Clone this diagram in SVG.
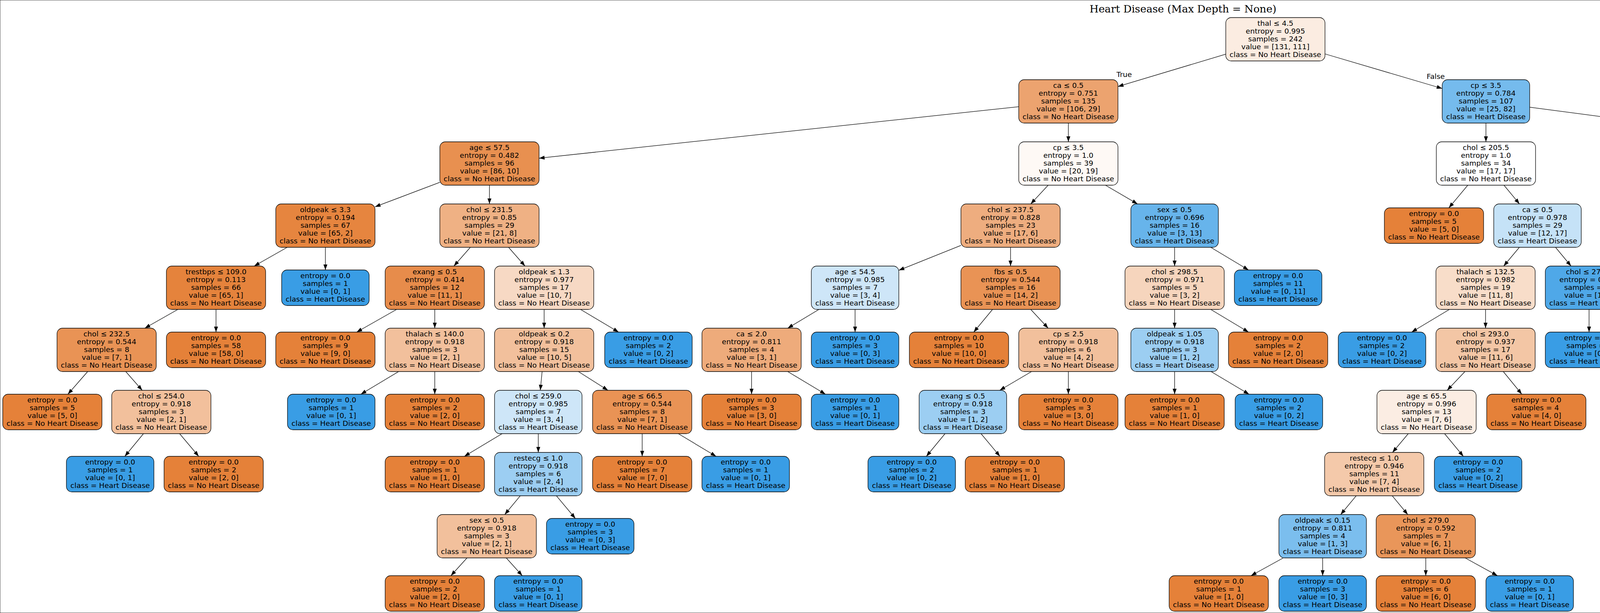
<svg xmlns="http://www.w3.org/2000/svg" width="6058" height="1569" viewBox="0 0 6058 1569">
<style>
text{font-family:"DejaVu Sans","Liberation Sans",sans-serif;font-size:18.5px;text-anchor:middle;fill:#000}
.title{font-family:"DejaVu Serif","Liberation Serif",serif;font-size:26.5px}
rect{stroke:#000;stroke-width:1.3}
.o{fill:#e58139}.b{fill:#399de5}
#edges line{stroke:#000;stroke-width:1.3;marker-end:url(#arr)}
</style>
<defs>
<marker id="arr" markerUnits="userSpaceOnUse" markerWidth="16" markerHeight="12" refX="14" refY="5" orient="auto" overflow="visible"><path d="M0,0 L14,5 L0,10 z" fill="#000"/></marker>
</defs>
<rect x="0" y="0" width="6058" height="1569" fill="#fff" stroke="none"/>
<text class="title" x="3028.5" y="32">Heart Disease (Max Depth = None)</text>
<g id="edges">
<line x1="3138" y1="138.6" x2="2862" y2="221.4"/>
<line x1="3392" y1="138" x2="3692" y2="226.5"/>
<line x1="2608" y1="273.1" x2="1380" y2="404.9"/>
<line x1="2735" y1="315" x2="2735" y2="363"/>
<line x1="3804" y1="315" x2="3804" y2="363"/>
<line x1="3916" y1="274.3" x2="4893" y2="403.7"/>
<line x1="1126" y1="466.6" x2="960" y2="529.4"/>
<line x1="1253" y1="474" x2="1253" y2="522"/>
<line x1="2683.3" y1="474" x2="2638.7" y2="522"/>
<line x1="2829.9" y1="474" x2="2912.1" y2="522"/>
<line x1="3757.6" y1="474" x2="3709.1" y2="532"/>
<line x1="3850.1" y1="474" x2="3889.9" y2="522"/>
<line x1="5005" y1="474" x2="5005" y2="522"/>
<line x1="5117" y1="445" x2="5564" y2="551"/>
<line x1="735.3" y1="633" x2="650.7" y2="681"/>
<line x1="833" y1="633" x2="833" y2="691"/>
<line x1="1204.1" y1="633" x2="1161.9" y2="681"/>
<line x1="1301.9" y1="633" x2="1344.1" y2="681"/>
<line x1="2460" y1="628.2" x2="2301" y2="691.8"/>
<line x1="2587" y1="633" x2="2587" y2="681"/>
<line x1="3007" y1="633" x2="3007" y2="681"/>
<line x1="3099.5" y1="633" x2="3196.2" y2="691"/>
<line x1="3889.6" y1="633" x2="3849.4" y2="681"/>
<line x1="3982.1" y1="633" x2="4021.9" y2="681"/>
<line x1="4955.8" y1="633" x2="4913.2" y2="681"/>
<line x1="5053.5" y1="633" x2="5095.5" y2="681"/>
<line x1="5676" y1="633" x2="5676" y2="681"/>
<line x1="5762.9" y1="633" x2="5853.7" y2="691"/>
<line x1="455.3" y1="792" x2="370.7" y2="840"/>
<line x1="553" y1="792" x2="553" y2="850"/>
<line x1="1015.3" y1="792" x2="913.1" y2="850"/>
<line x1="1113" y1="792" x2="1113" y2="840"/>
<line x1="1393" y1="792" x2="1393" y2="840"/>
<line x1="1486.2" y1="792" x2="1583.6" y2="850"/>
<line x1="2096.5" y1="792" x2="2016.5" y2="840"/>
<line x1="2189" y1="792" x2="2189" y2="850"/>
<line x1="2540.9" y1="792" x2="2492.8" y2="850"/>
<line x1="2638.7" y1="792" x2="2683.3" y2="840"/>
<line x1="3007" y1="792" x2="3007" y2="840"/>
<line x1="3099.5" y1="792" x2="3196.2" y2="850"/>
<line x1="3710.5" y1="792" x2="3613.8" y2="850"/>
<line x1="3803" y1="792" x2="3803" y2="840"/>
<line x1="4068" y1="792" x2="4068" y2="850"/>
<line x1="4160.8" y1="792" x2="4241.2" y2="840"/>
<line x1="4771.8" y1="792" x2="4675.5" y2="850"/>
<line x1="4864" y1="792" x2="4864" y2="840"/>
<line x1="5144" y1="792" x2="5144" y2="850"/>
<line x1="5236.8" y1="792" x2="5333.9" y2="850"/>
<line x1="5676" y1="792" x2="5676" y2="840"/>
<line x1="5768.5" y1="792" x2="5865.2" y2="850"/>
<line x1="224.5" y1="951" x2="173.8" y2="1009"/>
<line x1="321.9" y1="951" x2="364.1" y2="999"/>
<line x1="1020.5" y1="951" x2="923.8" y2="1009"/>
<line x1="1113" y1="951" x2="1113" y2="1009"/>
<line x1="1387.8" y1="951" x2="1383.2" y2="999"/>
<line x1="1480.6" y1="951" x2="1556.4" y2="999"/>
<line x1="1924" y1="951" x2="1924" y2="1009"/>
<line x1="2016.5" y1="951" x2="2113.2" y2="1009"/>
<line x1="2640.8" y1="951" x2="2559.3" y2="999"/>
<line x1="2735" y1="951" x2="2735" y2="1009"/>
<line x1="3007" y1="951" x2="3007" y2="1009"/>
<line x1="3100.2" y1="951" x2="3197.6" y2="1009"/>
<line x1="3750.3" y1="951" x2="3704.7" y2="999"/>
<line x1="3848.4" y1="951" x2="3895.8" y2="1009"/>
<line x1="4310.6" y1="951" x2="4286.2" y2="1009"/>
<line x1="4403.1" y1="951" x2="4475.3" y2="1009"/>
<line x1="4850.4" y1="951" x2="4836.2" y2="1009"/>
<line x1="4948.1" y1="951" x2="5020.9" y2="999"/>
<line x1="5628.9" y1="951" x2="5579.6" y2="1009"/>
<line x1="5721.7" y1="951" x2="5769.5" y2="1009"/>
<line x1="367.3" y1="1110" x2="319.5" y2="1168"/>
<line x1="459.8" y1="1110" x2="508.7" y2="1168"/>
<line x1="1285.5" y1="1110" x2="1188.8" y2="1168"/>
<line x1="1378" y1="1110" x2="1378" y2="1158"/>
<line x1="1644" y1="1110" x2="1644" y2="1168"/>
<line x1="1736.5" y1="1110" x2="1833.2" y2="1168"/>
<line x1="2419.3" y1="1110" x2="2371.5" y2="1168"/>
<line x1="2511.4" y1="1110" x2="2559.9" y2="1168"/>
<line x1="3605.2" y1="1110" x2="3564.8" y2="1158"/>
<line x1="3698.1" y1="1110" x2="3746.2" y2="1168"/>
<line x1="5058.6" y1="1110" x2="5010.1" y2="1168"/>
<line x1="5151.1" y1="1110" x2="5199.2" y2="1168"/>
<line x1="1331.9" y1="1269" x2="1292.1" y2="1317"/>
<line x1="1424.4" y1="1269" x2="1472.9" y2="1327"/>
<line x1="3471.9" y1="1269" x2="3432.1" y2="1317"/>
<line x1="3564.1" y1="1269" x2="3603.9" y2="1317"/>
<line x1="1195.6" y1="1428" x2="1154.3" y2="1473.5"/>
<line x1="1296" y1="1428" x2="1337" y2="1473.5"/>
<line x1="3285.2" y1="1428" x2="3202.6" y2="1473.5"/>
<line x1="3386" y1="1428" x2="3386" y2="1473.5"/>
<line x1="3650" y1="1428" x2="3650" y2="1473.5"/>
<line x1="3750.8" y1="1428" x2="3833.4" y2="1473.5"/>
<text x="2878" y="197">True</text>
<text x="3675.5" y="201.5">False</text>
</g>
<g id="n0" transform="translate(3265,100.5)"><rect x="-127" y="-55.5" width="254" height="111" rx="14" fill="#fbece1"/><text y="-35"><tspan x="0">thal ≤ 4.5</tspan><tspan x="0" dy="20">entropy = 0.995</tspan><tspan x="0" dy="20">samples = 242</tspan><tspan x="0" dy="20">value = [131, 111]</tspan><tspan x="0" dy="20">class = No Heart Disease</tspan></text></g>
<g id="n1" transform="translate(2735,259.5)"><rect x="-127" y="-55.5" width="254" height="111" rx="14" fill="#eca36f"/><text y="-35"><tspan x="0">ca ≤ 0.5</tspan><tspan x="0" dy="20">entropy = 0.751</tspan><tspan x="0" dy="20">samples = 135</tspan><tspan x="0" dy="20">value = [106, 29]</tspan><tspan x="0" dy="20">class = No Heart Disease</tspan></text></g>
<g id="n52" transform="translate(3804,259.5)"><rect x="-112" y="-55.5" width="224" height="111" rx="14" fill="#75bbed"/><text y="-35"><tspan x="0">cp ≤ 3.5</tspan><tspan x="0" dy="20">entropy = 0.784</tspan><tspan x="0" dy="20">samples = 107</tspan><tspan x="0" dy="20">value = [25, 82]</tspan><tspan x="0" dy="20">class = Heart Disease</tspan></text></g>
<g id="n2" transform="translate(1253,418.5)"><rect x="-127" y="-55.5" width="254" height="111" rx="14" fill="#e89050"/><text y="-35"><tspan x="0">age ≤ 57.5</tspan><tspan x="0" dy="20">entropy = 0.482</tspan><tspan x="0" dy="20">samples = 96</tspan><tspan x="0" dy="20">value = [86, 10]</tspan><tspan x="0" dy="20">class = No Heart Disease</tspan></text></g>
<g id="n31" transform="translate(2735,418.5)"><rect x="-127" y="-55.5" width="254" height="111" rx="14" fill="#fef9f5"/><text y="-35"><tspan x="0">cp ≤ 3.5</tspan><tspan x="0" dy="20">entropy = 1.0</tspan><tspan x="0" dy="20">samples = 39</tspan><tspan x="0" dy="20">value = [20, 19]</tspan><tspan x="0" dy="20">class = No Heart Disease</tspan></text></g>
<g id="n53" transform="translate(3804,418.5)"><rect x="-127" y="-55.5" width="254" height="111" rx="14" fill="#ffffff"/><text y="-35"><tspan x="0">chol ≤ 205.5</tspan><tspan x="0" dy="20">entropy = 1.0</tspan><tspan x="0" dy="20">samples = 34</tspan><tspan x="0" dy="20">value = [17, 17]</tspan><tspan x="0" dy="20">class = No Heart Disease</tspan></text></g>
<g id="n74" transform="translate(5005,418.5)"><rect x="-112" y="-55.5" width="224" height="111" rx="14" fill="#51a9e8"/><text y="-35"><tspan x="0">oldpeak ≤ 0.45</tspan><tspan x="0" dy="20">entropy = 0.499</tspan><tspan x="0" dy="20">samples = 73</tspan><tspan x="0" dy="20">value = [8, 65]</tspan><tspan x="0" dy="20">class = Heart Disease</tspan></text></g>
<g id="n3" transform="translate(833,577.5)"><rect x="-127" y="-55.5" width="254" height="111" rx="14" fill="#e6853f"/><text y="-35"><tspan x="0">oldpeak ≤ 3.3</tspan><tspan x="0" dy="20">entropy = 0.194</tspan><tspan x="0" dy="20">samples = 67</tspan><tspan x="0" dy="20">value = [65, 2]</tspan><tspan x="0" dy="20">class = No Heart Disease</tspan></text></g>
<g id="n12" transform="translate(1253,577.5)"><rect x="-127" y="-55.5" width="254" height="111" rx="14" fill="#efb184"/><text y="-35"><tspan x="0">chol ≤ 231.5</tspan><tspan x="0" dy="20">entropy = 0.85</tspan><tspan x="0" dy="20">samples = 29</tspan><tspan x="0" dy="20">value = [21, 8]</tspan><tspan x="0" dy="20">class = No Heart Disease</tspan></text></g>
<g id="n32" transform="translate(2587,577.5)"><rect x="-127" y="-55.5" width="254" height="111" rx="14" fill="#eead7f"/><text y="-35"><tspan x="0">chol ≤ 237.5</tspan><tspan x="0" dy="20">entropy = 0.828</tspan><tspan x="0" dy="20">samples = 23</tspan><tspan x="0" dy="20">value = [17, 6]</tspan><tspan x="0" dy="20">class = No Heart Disease</tspan></text></g>
<g id="n45" transform="translate(3007,577.5)"><rect x="-112" y="-55.5" width="224" height="111" rx="14" fill="#67b4eb"/><text y="-35"><tspan x="0">sex ≤ 0.5</tspan><tspan x="0" dy="20">entropy = 0.696</tspan><tspan x="0" dy="20">samples = 16</tspan><tspan x="0" dy="20">value = [3, 13]</tspan><tspan x="0" dy="20">class = Heart Disease</tspan></text></g>
<g id="n54" transform="translate(3671,577.5)"><rect x="-127" y="-45.5" width="254" height="91" rx="14" class="o"/><text y="-25"><tspan x="0">entropy = 0.0</tspan><tspan x="0" dy="20">samples = 5</tspan><tspan x="0" dy="20">value = [5, 0]</tspan><tspan x="0" dy="20">class = No Heart Disease</tspan></text></g>
<g id="n55" transform="translate(3936,577.5)"><rect x="-112" y="-55.5" width="224" height="111" rx="14" fill="#c5e2f7"/><text y="-35"><tspan x="0">ca ≤ 0.5</tspan><tspan x="0" dy="20">entropy = 0.978</tspan><tspan x="0" dy="20">samples = 29</tspan><tspan x="0" dy="20">value = [12, 17]</tspan><tspan x="0" dy="20">class = Heart Disease</tspan></text></g>
<g id="n75" transform="translate(5005,577.5)"><rect x="-112" y="-55.5" width="224" height="111" rx="14" fill="#d3e9f9"/><text y="-35"><tspan x="0">chol ≤ 233.5</tspan><tspan x="0" dy="20">entropy = 0.989</tspan><tspan x="0" dy="20">samples = 16</tspan><tspan x="0" dy="20">value = [7, 9]</tspan><tspan x="0" dy="20">class = Heart Disease</tspan></text></g>
<g id="n86" transform="translate(5676,577.5)"><rect x="-112" y="-55.5" width="224" height="111" rx="14" fill="#3d9fe5"/><text y="-35"><tspan x="0">trestbps ≤ 113.5</tspan><tspan x="0" dy="20">entropy = 0.127</tspan><tspan x="0" dy="20">samples = 57</tspan><tspan x="0" dy="20">value = [1, 56]</tspan><tspan x="0" dy="20">class = Heart Disease</tspan></text></g>
<g id="n4" transform="translate(553,736.5)"><rect x="-127" y="-55.5" width="254" height="111" rx="14" fill="#e5833c"/><text y="-35"><tspan x="0">trestbps ≤ 109.0</tspan><tspan x="0" dy="20">entropy = 0.113</tspan><tspan x="0" dy="20">samples = 66</tspan><tspan x="0" dy="20">value = [65, 1]</tspan><tspan x="0" dy="20">class = No Heart Disease</tspan></text></g>
<g id="n11" transform="translate(833,736.5)"><rect x="-112" y="-45.5" width="224" height="91" rx="14" class="b"/><text y="-25"><tspan x="0">entropy = 0.0</tspan><tspan x="0" dy="20">samples = 1</tspan><tspan x="0" dy="20">value = [0, 1]</tspan><tspan x="0" dy="20">class = Heart Disease</tspan></text></g>
<g id="n13" transform="translate(1113,736.5)"><rect x="-127" y="-55.5" width="254" height="111" rx="14" fill="#e78c4b"/><text y="-35"><tspan x="0">exang ≤ 0.5</tspan><tspan x="0" dy="20">entropy = 0.414</tspan><tspan x="0" dy="20">samples = 12</tspan><tspan x="0" dy="20">value = [11, 1]</tspan><tspan x="0" dy="20">class = No Heart Disease</tspan></text></g>
<g id="n18" transform="translate(1393,736.5)"><rect x="-127" y="-55.5" width="254" height="111" rx="14" fill="#f7d9c4"/><text y="-35"><tspan x="0">oldpeak ≤ 1.3</tspan><tspan x="0" dy="20">entropy = 0.977</tspan><tspan x="0" dy="20">samples = 17</tspan><tspan x="0" dy="20">value = [10, 7]</tspan><tspan x="0" dy="20">class = No Heart Disease</tspan></text></g>
<g id="n33" transform="translate(2189,736.5)"><rect x="-112" y="-55.5" width="224" height="111" rx="14" fill="#cee6f8"/><text y="-35"><tspan x="0">age ≤ 54.5</tspan><tspan x="0" dy="20">entropy = 0.985</tspan><tspan x="0" dy="20">samples = 7</tspan><tspan x="0" dy="20">value = [3, 4]</tspan><tspan x="0" dy="20">class = Heart Disease</tspan></text></g>
<g id="n38" transform="translate(2587,736.5)"><rect x="-127" y="-55.5" width="254" height="111" rx="14" fill="#e99355"/><text y="-35"><tspan x="0">fbs ≤ 0.5</tspan><tspan x="0" dy="20">entropy = 0.544</tspan><tspan x="0" dy="20">samples = 16</tspan><tspan x="0" dy="20">value = [14, 2]</tspan><tspan x="0" dy="20">class = No Heart Disease</tspan></text></g>
<g id="n46" transform="translate(3007,736.5)"><rect x="-127" y="-55.5" width="254" height="111" rx="14" fill="#f6d5bd"/><text y="-35"><tspan x="0">chol ≤ 298.5</tspan><tspan x="0" dy="20">entropy = 0.971</tspan><tspan x="0" dy="20">samples = 5</tspan><tspan x="0" dy="20">value = [3, 2]</tspan><tspan x="0" dy="20">class = No Heart Disease</tspan></text></g>
<g id="n51" transform="translate(3272,736.5)"><rect x="-112" y="-45.5" width="224" height="91" rx="14" class="b"/><text y="-25"><tspan x="0">entropy = 0.0</tspan><tspan x="0" dy="20">samples = 11</tspan><tspan x="0" dy="20">value = [0, 11]</tspan><tspan x="0" dy="20">class = Heart Disease</tspan></text></g>
<g id="n56" transform="translate(3803,736.5)"><rect x="-127" y="-55.5" width="254" height="111" rx="14" fill="#f8ddc9"/><text y="-35"><tspan x="0">thalach ≤ 132.5</tspan><tspan x="0" dy="20">entropy = 0.982</tspan><tspan x="0" dy="20">samples = 19</tspan><tspan x="0" dy="20">value = [11, 8]</tspan><tspan x="0" dy="20">class = No Heart Disease</tspan></text></g>
<g id="n69" transform="translate(4068,736.5)"><rect x="-112" y="-55.5" width="224" height="111" rx="14" fill="#4fa8e8"/><text y="-35"><tspan x="0">chol ≤ 273.0</tspan><tspan x="0" dy="20">entropy = 0.469</tspan><tspan x="0" dy="20">samples = 10</tspan><tspan x="0" dy="20">value = [1, 9]</tspan><tspan x="0" dy="20">class = Heart Disease</tspan></text></g>
<g id="n76" transform="translate(4864,736.5)"><rect x="-127" y="-55.5" width="254" height="111" rx="14" fill="#f2c09c"/><text y="-35"><tspan x="0">age ≤ 42.0</tspan><tspan x="0" dy="20">entropy = 0.918</tspan><tspan x="0" dy="20">samples = 9</tspan><tspan x="0" dy="20">value = [6, 3]</tspan><tspan x="0" dy="20">class = No Heart Disease</tspan></text></g>
<g id="n83" transform="translate(5144,736.5)"><rect x="-112" y="-55.5" width="224" height="111" rx="14" fill="#5aade9"/><text y="-35"><tspan x="0">thalach ≤ 114.0</tspan><tspan x="0" dy="20">entropy = 0.592</tspan><tspan x="0" dy="20">samples = 7</tspan><tspan x="0" dy="20">value = [1, 6]</tspan><tspan x="0" dy="20">class = Heart Disease</tspan></text></g>
<g id="n87" transform="translate(5676,736.5)"><rect x="-112" y="-55.5" width="224" height="111" rx="14" fill="#61b1ea"/><text y="-35"><tspan x="0">ca ≤ 0.5</tspan><tspan x="0" dy="20">entropy = 0.65</tspan><tspan x="0" dy="20">samples = 6</tspan><tspan x="0" dy="20">value = [1, 5]</tspan><tspan x="0" dy="20">class = Heart Disease</tspan></text></g>
<g id="n92" transform="translate(5925,736.5)"><rect x="-112" y="-45.5" width="224" height="91" rx="14" class="b"/><text y="-25"><tspan x="0">entropy = 0.0</tspan><tspan x="0" dy="20">samples = 51</tspan><tspan x="0" dy="20">value = [0, 51]</tspan><tspan x="0" dy="20">class = Heart Disease</tspan></text></g>
<g id="n5" transform="translate(273,895.5)"><rect x="-127" y="-55.5" width="254" height="111" rx="14" fill="#e99355"/><text y="-35"><tspan x="0">chol ≤ 232.5</tspan><tspan x="0" dy="20">entropy = 0.544</tspan><tspan x="0" dy="20">samples = 8</tspan><tspan x="0" dy="20">value = [7, 1]</tspan><tspan x="0" dy="20">class = No Heart Disease</tspan></text></g>
<g id="n10" transform="translate(553,895.5)"><rect x="-127" y="-45.5" width="254" height="91" rx="14" class="o"/><text y="-25"><tspan x="0">entropy = 0.0</tspan><tspan x="0" dy="20">samples = 58</tspan><tspan x="0" dy="20">value = [58, 0]</tspan><tspan x="0" dy="20">class = No Heart Disease</tspan></text></g>
<g id="n14" transform="translate(833,895.5)"><rect x="-127" y="-45.5" width="254" height="91" rx="14" class="o"/><text y="-25"><tspan x="0">entropy = 0.0</tspan><tspan x="0" dy="20">samples = 9</tspan><tspan x="0" dy="20">value = [9, 0]</tspan><tspan x="0" dy="20">class = No Heart Disease</tspan></text></g>
<g id="n15" transform="translate(1113,895.5)"><rect x="-127" y="-55.5" width="254" height="111" rx="14" fill="#f2c09c"/><text y="-35"><tspan x="0">thalach ≤ 140.0</tspan><tspan x="0" dy="20">entropy = 0.918</tspan><tspan x="0" dy="20">samples = 3</tspan><tspan x="0" dy="20">value = [2, 1]</tspan><tspan x="0" dy="20">class = No Heart Disease</tspan></text></g>
<g id="n19" transform="translate(1393,895.5)"><rect x="-127" y="-55.5" width="254" height="111" rx="14" fill="#f2c09c"/><text y="-35"><tspan x="0">oldpeak ≤ 0.2</tspan><tspan x="0" dy="20">entropy = 0.918</tspan><tspan x="0" dy="20">samples = 15</tspan><tspan x="0" dy="20">value = [10, 5]</tspan><tspan x="0" dy="20">class = No Heart Disease</tspan></text></g>
<g id="n30" transform="translate(1660,895.5)"><rect x="-112" y="-45.5" width="224" height="91" rx="14" class="b"/><text y="-25"><tspan x="0">entropy = 0.0</tspan><tspan x="0" dy="20">samples = 2</tspan><tspan x="0" dy="20">value = [0, 2]</tspan><tspan x="0" dy="20">class = Heart Disease</tspan></text></g>
<g id="n34" transform="translate(1924,895.5)"><rect x="-127" y="-55.5" width="254" height="111" rx="14" fill="#eeab7b"/><text y="-35"><tspan x="0">ca ≤ 2.0</tspan><tspan x="0" dy="20">entropy = 0.811</tspan><tspan x="0" dy="20">samples = 4</tspan><tspan x="0" dy="20">value = [3, 1]</tspan><tspan x="0" dy="20">class = No Heart Disease</tspan></text></g>
<g id="n37" transform="translate(2189,895.5)"><rect x="-112" y="-45.5" width="224" height="91" rx="14" class="b"/><text y="-25"><tspan x="0">entropy = 0.0</tspan><tspan x="0" dy="20">samples = 3</tspan><tspan x="0" dy="20">value = [0, 3]</tspan><tspan x="0" dy="20">class = Heart Disease</tspan></text></g>
<g id="n39" transform="translate(2455,895.5)"><rect x="-127" y="-45.5" width="254" height="91" rx="14" class="o"/><text y="-25"><tspan x="0">entropy = 0.0</tspan><tspan x="0" dy="20">samples = 10</tspan><tspan x="0" dy="20">value = [10, 0]</tspan><tspan x="0" dy="20">class = No Heart Disease</tspan></text></g>
<g id="n40" transform="translate(2735,895.5)"><rect x="-127" y="-55.5" width="254" height="111" rx="14" fill="#f2c09c"/><text y="-35"><tspan x="0">cp ≤ 2.5</tspan><tspan x="0" dy="20">entropy = 0.918</tspan><tspan x="0" dy="20">samples = 6</tspan><tspan x="0" dy="20">value = [4, 2]</tspan><tspan x="0" dy="20">class = No Heart Disease</tspan></text></g>
<g id="n47" transform="translate(3007,895.5)"><rect x="-112" y="-55.5" width="224" height="111" rx="14" fill="#9ccef2"/><text y="-35"><tspan x="0">oldpeak ≤ 1.05</tspan><tspan x="0" dy="20">entropy = 0.918</tspan><tspan x="0" dy="20">samples = 3</tspan><tspan x="0" dy="20">value = [1, 2]</tspan><tspan x="0" dy="20">class = Heart Disease</tspan></text></g>
<g id="n50" transform="translate(3272,895.5)"><rect x="-127" y="-45.5" width="254" height="91" rx="14" class="o"/><text y="-25"><tspan x="0">entropy = 0.0</tspan><tspan x="0" dy="20">samples = 2</tspan><tspan x="0" dy="20">value = [2, 0]</tspan><tspan x="0" dy="20">class = No Heart Disease</tspan></text></g>
<g id="n57" transform="translate(3538,895.5)"><rect x="-112" y="-45.5" width="224" height="91" rx="14" class="b"/><text y="-25"><tspan x="0">entropy = 0.0</tspan><tspan x="0" dy="20">samples = 2</tspan><tspan x="0" dy="20">value = [0, 2]</tspan><tspan x="0" dy="20">class = Heart Disease</tspan></text></g>
<g id="n58" transform="translate(3803,895.5)"><rect x="-127" y="-55.5" width="254" height="111" rx="14" fill="#f3c6a5"/><text y="-35"><tspan x="0">chol ≤ 293.0</tspan><tspan x="0" dy="20">entropy = 0.937</tspan><tspan x="0" dy="20">samples = 17</tspan><tspan x="0" dy="20">value = [11, 6]</tspan><tspan x="0" dy="20">class = No Heart Disease</tspan></text></g>
<g id="n70" transform="translate(4068,895.5)"><rect x="-112" y="-45.5" width="224" height="91" rx="14" class="b"/><text y="-25"><tspan x="0">entropy = 0.0</tspan><tspan x="0" dy="20">samples = 8</tspan><tspan x="0" dy="20">value = [0, 8]</tspan><tspan x="0" dy="20">class = Heart Disease</tspan></text></g>
<g id="n71" transform="translate(4334,895.5)"><rect x="-127" y="-55.5" width="254" height="111" rx="14" fill="#ffffff"/><text y="-35"><tspan x="0">restecg ≤ 1.0</tspan><tspan x="0" dy="20">entropy = 1.0</tspan><tspan x="0" dy="20">samples = 2</tspan><tspan x="0" dy="20">value = [1, 1]</tspan><tspan x="0" dy="20">class = No Heart Disease</tspan></text></g>
<g id="n77" transform="translate(4600,895.5)"><rect x="-112" y="-45.5" width="224" height="91" rx="14" class="b"/><text y="-25"><tspan x="0">entropy = 0.0</tspan><tspan x="0" dy="20">samples = 2</tspan><tspan x="0" dy="20">value = [0, 2]</tspan><tspan x="0" dy="20">class = Heart Disease</tspan></text></g>
<g id="n78" transform="translate(4864,895.5)"><rect x="-127" y="-55.5" width="254" height="111" rx="14" fill="#e9965a"/><text y="-35"><tspan x="0">age ≤ 58.0</tspan><tspan x="0" dy="20">entropy = 0.592</tspan><tspan x="0" dy="20">samples = 7</tspan><tspan x="0" dy="20">value = [6, 1]</tspan><tspan x="0" dy="20">class = No Heart Disease</tspan></text></g>
<g id="n84" transform="translate(5144,895.5)"><rect x="-127" y="-45.5" width="254" height="91" rx="14" class="o"/><text y="-25"><tspan x="0">entropy = 0.0</tspan><tspan x="0" dy="20">samples = 1</tspan><tspan x="0" dy="20">value = [1, 0]</tspan><tspan x="0" dy="20">class = No Heart Disease</tspan></text></g>
<g id="n85" transform="translate(5410,895.5)"><rect x="-112" y="-45.5" width="224" height="91" rx="14" class="b"/><text y="-25"><tspan x="0">entropy = 0.0</tspan><tspan x="0" dy="20">samples = 6</tspan><tspan x="0" dy="20">value = [0, 6]</tspan><tspan x="0" dy="20">class = Heart Disease</tspan></text></g>
<g id="n88" transform="translate(5676,895.5)"><rect x="-127" y="-55.5" width="254" height="111" rx="14" fill="#ffffff"/><text y="-35"><tspan x="0">restecg ≤ 1.0</tspan><tspan x="0" dy="20">entropy = 1.0</tspan><tspan x="0" dy="20">samples = 2</tspan><tspan x="0" dy="20">value = [1, 1]</tspan><tspan x="0" dy="20">class = No Heart Disease</tspan></text></g>
<g id="n91" transform="translate(5941,895.5)"><rect x="-112" y="-45.5" width="224" height="91" rx="14" class="b"/><text y="-25"><tspan x="0">entropy = 0.0</tspan><tspan x="0" dy="20">samples = 4</tspan><tspan x="0" dy="20">value = [0, 4]</tspan><tspan x="0" dy="20">class = Heart Disease</tspan></text></g>
<g id="n6" transform="translate(134,1054.5)"><rect x="-127" y="-45.5" width="254" height="91" rx="14" class="o"/><text y="-25"><tspan x="0">entropy = 0.0</tspan><tspan x="0" dy="20">samples = 5</tspan><tspan x="0" dy="20">value = [5, 0]</tspan><tspan x="0" dy="20">class = No Heart Disease</tspan></text></g>
<g id="n7" transform="translate(413,1054.5)"><rect x="-127" y="-55.5" width="254" height="111" rx="14" fill="#f2c09c"/><text y="-35"><tspan x="0">chol ≤ 254.0</tspan><tspan x="0" dy="20">entropy = 0.918</tspan><tspan x="0" dy="20">samples = 3</tspan><tspan x="0" dy="20">value = [2, 1]</tspan><tspan x="0" dy="20">class = No Heart Disease</tspan></text></g>
<g id="n16" transform="translate(848,1054.5)"><rect x="-112" y="-45.5" width="224" height="91" rx="14" class="b"/><text y="-25"><tspan x="0">entropy = 0.0</tspan><tspan x="0" dy="20">samples = 1</tspan><tspan x="0" dy="20">value = [0, 1]</tspan><tspan x="0" dy="20">class = Heart Disease</tspan></text></g>
<g id="n17" transform="translate(1113,1054.5)"><rect x="-127" y="-45.5" width="254" height="91" rx="14" class="o"/><text y="-25"><tspan x="0">entropy = 0.0</tspan><tspan x="0" dy="20">samples = 2</tspan><tspan x="0" dy="20">value = [2, 0]</tspan><tspan x="0" dy="20">class = No Heart Disease</tspan></text></g>
<g id="n20" transform="translate(1378,1054.5)"><rect x="-112" y="-55.5" width="224" height="111" rx="14" fill="#cee6f8"/><text y="-35"><tspan x="0">chol ≤ 259.0</tspan><tspan x="0" dy="20">entropy = 0.985</tspan><tspan x="0" dy="20">samples = 7</tspan><tspan x="0" dy="20">value = [3, 4]</tspan><tspan x="0" dy="20">class = Heart Disease</tspan></text></g>
<g id="n27" transform="translate(1644,1054.5)"><rect x="-127" y="-55.5" width="254" height="111" rx="14" fill="#e99355"/><text y="-35"><tspan x="0">age ≤ 66.5</tspan><tspan x="0" dy="20">entropy = 0.544</tspan><tspan x="0" dy="20">samples = 8</tspan><tspan x="0" dy="20">value = [7, 1]</tspan><tspan x="0" dy="20">class = No Heart Disease</tspan></text></g>
<g id="n35" transform="translate(1924,1054.5)"><rect x="-127" y="-45.5" width="254" height="91" rx="14" class="o"/><text y="-25"><tspan x="0">entropy = 0.0</tspan><tspan x="0" dy="20">samples = 3</tspan><tspan x="0" dy="20">value = [3, 0]</tspan><tspan x="0" dy="20">class = No Heart Disease</tspan></text></g>
<g id="n36" transform="translate(2189,1054.5)"><rect x="-112" y="-45.5" width="224" height="91" rx="14" class="b"/><text y="-25"><tspan x="0">entropy = 0.0</tspan><tspan x="0" dy="20">samples = 1</tspan><tspan x="0" dy="20">value = [0, 1]</tspan><tspan x="0" dy="20">class = Heart Disease</tspan></text></g>
<g id="n41" transform="translate(2465,1054.5)"><rect x="-112" y="-55.5" width="224" height="111" rx="14" fill="#9ccef2"/><text y="-35"><tspan x="0">exang ≤ 0.5</tspan><tspan x="0" dy="20">entropy = 0.918</tspan><tspan x="0" dy="20">samples = 3</tspan><tspan x="0" dy="20">value = [1, 2]</tspan><tspan x="0" dy="20">class = Heart Disease</tspan></text></g>
<g id="n44" transform="translate(2735,1054.5)"><rect x="-127" y="-45.5" width="254" height="91" rx="14" class="o"/><text y="-25"><tspan x="0">entropy = 0.0</tspan><tspan x="0" dy="20">samples = 3</tspan><tspan x="0" dy="20">value = [3, 0]</tspan><tspan x="0" dy="20">class = No Heart Disease</tspan></text></g>
<g id="n48" transform="translate(3007,1054.5)"><rect x="-127" y="-45.5" width="254" height="91" rx="14" class="o"/><text y="-25"><tspan x="0">entropy = 0.0</tspan><tspan x="0" dy="20">samples = 1</tspan><tspan x="0" dy="20">value = [1, 0]</tspan><tspan x="0" dy="20">class = No Heart Disease</tspan></text></g>
<g id="n49" transform="translate(3274,1054.5)"><rect x="-112" y="-45.5" width="224" height="91" rx="14" class="b"/><text y="-25"><tspan x="0">entropy = 0.0</tspan><tspan x="0" dy="20">samples = 2</tspan><tspan x="0" dy="20">value = [0, 2]</tspan><tspan x="0" dy="20">class = Heart Disease</tspan></text></g>
<g id="n59" transform="translate(3652,1054.5)"><rect x="-127" y="-55.5" width="254" height="111" rx="14" fill="#fbede3"/><text y="-35"><tspan x="0">age ≤ 65.5</tspan><tspan x="0" dy="20">entropy = 0.996</tspan><tspan x="0" dy="20">samples = 13</tspan><tspan x="0" dy="20">value = [7, 6]</tspan><tspan x="0" dy="20">class = No Heart Disease</tspan></text></g>
<g id="n68" transform="translate(3933,1054.5)"><rect x="-127" y="-45.5" width="254" height="91" rx="14" class="o"/><text y="-25"><tspan x="0">entropy = 0.0</tspan><tspan x="0" dy="20">samples = 4</tspan><tspan x="0" dy="20">value = [4, 0]</tspan><tspan x="0" dy="20">class = No Heart Disease</tspan></text></g>
<g id="n72" transform="translate(4267,1054.5)"><rect x="-127" y="-45.5" width="254" height="91" rx="14" class="o"/><text y="-25"><tspan x="0">entropy = 0.0</tspan><tspan x="0" dy="20">samples = 1</tspan><tspan x="0" dy="20">value = [1, 0]</tspan><tspan x="0" dy="20">class = No Heart Disease</tspan></text></g>
<g id="n73" transform="translate(4532,1054.5)"><rect x="-112" y="-45.5" width="224" height="91" rx="14" class="b"/><text y="-25"><tspan x="0">entropy = 0.0</tspan><tspan x="0" dy="20">samples = 1</tspan><tspan x="0" dy="20">value = [0, 1]</tspan><tspan x="0" dy="20">class = Heart Disease</tspan></text></g>
<g id="n79" transform="translate(4825,1054.5)"><rect x="-127" y="-45.5" width="254" height="91" rx="14" class="o"/><text y="-25"><tspan x="0">entropy = 0.0</tspan><tspan x="0" dy="20">samples = 5</tspan><tspan x="0" dy="20">value = [5, 0]</tspan><tspan x="0" dy="20">class = No Heart Disease</tspan></text></g>
<g id="n80" transform="translate(5105,1054.5)"><rect x="-127" y="-55.5" width="254" height="111" rx="14" fill="#ffffff"/><text y="-35"><tspan x="0">trestbps ≤ 130.0</tspan><tspan x="0" dy="20">entropy = 1.0</tspan><tspan x="0" dy="20">samples = 2</tspan><tspan x="0" dy="20">value = [1, 1]</tspan><tspan x="0" dy="20">class = No Heart Disease</tspan></text></g>
<g id="n89" transform="translate(5541,1054.5)"><rect x="-127" y="-45.5" width="254" height="91" rx="14" class="o"/><text y="-25"><tspan x="0">entropy = 0.0</tspan><tspan x="0" dy="20">samples = 1</tspan><tspan x="0" dy="20">value = [1, 0]</tspan><tspan x="0" dy="20">class = No Heart Disease</tspan></text></g>
<g id="n90" transform="translate(5807,1054.5)"><rect x="-112" y="-45.5" width="224" height="91" rx="14" class="b"/><text y="-25"><tspan x="0">entropy = 0.0</tspan><tspan x="0" dy="20">samples = 1</tspan><tspan x="0" dy="20">value = [0, 1]</tspan><tspan x="0" dy="20">class = Heart Disease</tspan></text></g>
<g id="n8" transform="translate(282,1213.5)"><rect x="-112" y="-45.5" width="224" height="91" rx="14" class="b"/><text y="-25"><tspan x="0">entropy = 0.0</tspan><tspan x="0" dy="20">samples = 1</tspan><tspan x="0" dy="20">value = [0, 1]</tspan><tspan x="0" dy="20">class = Heart Disease</tspan></text></g>
<g id="n9" transform="translate(547,1213.5)"><rect x="-127" y="-45.5" width="254" height="91" rx="14" class="o"/><text y="-25"><tspan x="0">entropy = 0.0</tspan><tspan x="0" dy="20">samples = 2</tspan><tspan x="0" dy="20">value = [2, 0]</tspan><tspan x="0" dy="20">class = No Heart Disease</tspan></text></g>
<g id="n21" transform="translate(1113,1213.5)"><rect x="-127" y="-45.5" width="254" height="91" rx="14" class="o"/><text y="-25"><tspan x="0">entropy = 0.0</tspan><tspan x="0" dy="20">samples = 1</tspan><tspan x="0" dy="20">value = [1, 0]</tspan><tspan x="0" dy="20">class = No Heart Disease</tspan></text></g>
<g id="n22" transform="translate(1378,1213.5)"><rect x="-112" y="-55.5" width="224" height="111" rx="14" fill="#9ccef2"/><text y="-35"><tspan x="0">restecg ≤ 1.0</tspan><tspan x="0" dy="20">entropy = 0.918</tspan><tspan x="0" dy="20">samples = 6</tspan><tspan x="0" dy="20">value = [2, 4]</tspan><tspan x="0" dy="20">class = Heart Disease</tspan></text></g>
<g id="n28" transform="translate(1644,1213.5)"><rect x="-127" y="-45.5" width="254" height="91" rx="14" class="o"/><text y="-25"><tspan x="0">entropy = 0.0</tspan><tspan x="0" dy="20">samples = 7</tspan><tspan x="0" dy="20">value = [7, 0]</tspan><tspan x="0" dy="20">class = No Heart Disease</tspan></text></g>
<g id="n29" transform="translate(1909,1213.5)"><rect x="-112" y="-45.5" width="224" height="91" rx="14" class="b"/><text y="-25"><tspan x="0">entropy = 0.0</tspan><tspan x="0" dy="20">samples = 1</tspan><tspan x="0" dy="20">value = [0, 1]</tspan><tspan x="0" dy="20">class = Heart Disease</tspan></text></g>
<g id="n42" transform="translate(2334,1213.5)"><rect x="-112" y="-45.5" width="224" height="91" rx="14" class="b"/><text y="-25"><tspan x="0">entropy = 0.0</tspan><tspan x="0" dy="20">samples = 2</tspan><tspan x="0" dy="20">value = [0, 2]</tspan><tspan x="0" dy="20">class = Heart Disease</tspan></text></g>
<g id="n43" transform="translate(2598,1213.5)"><rect x="-127" y="-45.5" width="254" height="91" rx="14" class="o"/><text y="-25"><tspan x="0">entropy = 0.0</tspan><tspan x="0" dy="20">samples = 1</tspan><tspan x="0" dy="20">value = [1, 0]</tspan><tspan x="0" dy="20">class = No Heart Disease</tspan></text></g>
<g id="n60" transform="translate(3518,1213.5)"><rect x="-127" y="-55.5" width="254" height="111" rx="14" fill="#f4c9aa"/><text y="-35"><tspan x="0">restecg ≤ 1.0</tspan><tspan x="0" dy="20">entropy = 0.946</tspan><tspan x="0" dy="20">samples = 11</tspan><tspan x="0" dy="20">value = [7, 4]</tspan><tspan x="0" dy="20">class = No Heart Disease</tspan></text></g>
<g id="n67" transform="translate(3784,1213.5)"><rect x="-112" y="-45.5" width="224" height="91" rx="14" class="b"/><text y="-25"><tspan x="0">entropy = 0.0</tspan><tspan x="0" dy="20">samples = 2</tspan><tspan x="0" dy="20">value = [0, 2]</tspan><tspan x="0" dy="20">class = Heart Disease</tspan></text></g>
<g id="n81" transform="translate(4972,1213.5)"><rect x="-127" y="-45.5" width="254" height="91" rx="14" class="o"/><text y="-25"><tspan x="0">entropy = 0.0</tspan><tspan x="0" dy="20">samples = 1</tspan><tspan x="0" dy="20">value = [1, 0]</tspan><tspan x="0" dy="20">class = No Heart Disease</tspan></text></g>
<g id="n82" transform="translate(5237,1213.5)"><rect x="-112" y="-45.5" width="224" height="91" rx="14" class="b"/><text y="-25"><tspan x="0">entropy = 0.0</tspan><tspan x="0" dy="20">samples = 1</tspan><tspan x="0" dy="20">value = [0, 1]</tspan><tspan x="0" dy="20">class = Heart Disease</tspan></text></g>
<g id="n23" transform="translate(1246,1372.5)"><rect x="-127" y="-55.5" width="254" height="111" rx="14" fill="#f2c09c"/><text y="-35"><tspan x="0">sex ≤ 0.5</tspan><tspan x="0" dy="20">entropy = 0.918</tspan><tspan x="0" dy="20">samples = 3</tspan><tspan x="0" dy="20">value = [2, 1]</tspan><tspan x="0" dy="20">class = No Heart Disease</tspan></text></g>
<g id="n26" transform="translate(1511,1372.5)"><rect x="-112" y="-45.5" width="224" height="91" rx="14" class="b"/><text y="-25"><tspan x="0">entropy = 0.0</tspan><tspan x="0" dy="20">samples = 3</tspan><tspan x="0" dy="20">value = [0, 3]</tspan><tspan x="0" dy="20">class = Heart Disease</tspan></text></g>
<g id="n61" transform="translate(3386,1372.5)"><rect x="-112" y="-55.5" width="224" height="111" rx="14" fill="#7bbeee"/><text y="-35"><tspan x="0">oldpeak ≤ 0.15</tspan><tspan x="0" dy="20">entropy = 0.811</tspan><tspan x="0" dy="20">samples = 4</tspan><tspan x="0" dy="20">value = [1, 3]</tspan><tspan x="0" dy="20">class = Heart Disease</tspan></text></g>
<g id="n64" transform="translate(3650,1372.5)"><rect x="-127" y="-55.5" width="254" height="111" rx="14" fill="#e9965a"/><text y="-35"><tspan x="0">chol ≤ 279.0</tspan><tspan x="0" dy="20">entropy = 0.592</tspan><tspan x="0" dy="20">samples = 7</tspan><tspan x="0" dy="20">value = [6, 1]</tspan><tspan x="0" dy="20">class = No Heart Disease</tspan></text></g>
<g id="n24" transform="translate(1113,1519)"><rect x="-127" y="-45.5" width="254" height="91" rx="14" class="o"/><text y="-25"><tspan x="0">entropy = 0.0</tspan><tspan x="0" dy="20">samples = 2</tspan><tspan x="0" dy="20">value = [2, 0]</tspan><tspan x="0" dy="20">class = No Heart Disease</tspan></text></g>
<g id="n25" transform="translate(1378,1519)"><rect x="-112" y="-45.5" width="224" height="91" rx="14" class="b"/><text y="-25"><tspan x="0">entropy = 0.0</tspan><tspan x="0" dy="20">samples = 1</tspan><tspan x="0" dy="20">value = [0, 1]</tspan><tspan x="0" dy="20">class = Heart Disease</tspan></text></g>
<g id="n62" transform="translate(3120,1519)"><rect x="-127" y="-45.5" width="254" height="91" rx="14" class="o"/><text y="-25"><tspan x="0">entropy = 0.0</tspan><tspan x="0" dy="20">samples = 1</tspan><tspan x="0" dy="20">value = [1, 0]</tspan><tspan x="0" dy="20">class = No Heart Disease</tspan></text></g>
<g id="n63" transform="translate(3386,1519)"><rect x="-112" y="-45.5" width="224" height="91" rx="14" class="b"/><text y="-25"><tspan x="0">entropy = 0.0</tspan><tspan x="0" dy="20">samples = 3</tspan><tspan x="0" dy="20">value = [0, 3]</tspan><tspan x="0" dy="20">class = Heart Disease</tspan></text></g>
<g id="n65" transform="translate(3650,1519)"><rect x="-127" y="-45.5" width="254" height="91" rx="14" class="o"/><text y="-25"><tspan x="0">entropy = 0.0</tspan><tspan x="0" dy="20">samples = 6</tspan><tspan x="0" dy="20">value = [6, 0]</tspan><tspan x="0" dy="20">class = No Heart Disease</tspan></text></g>
<g id="n66" transform="translate(3916,1519)"><rect x="-112" y="-45.5" width="224" height="91" rx="14" class="b"/><text y="-25"><tspan x="0">entropy = 0.0</tspan><tspan x="0" dy="20">samples = 1</tspan><tspan x="0" dy="20">value = [0, 1]</tspan><tspan x="0" dy="20">class = Heart Disease</tspan></text></g>
</svg>
